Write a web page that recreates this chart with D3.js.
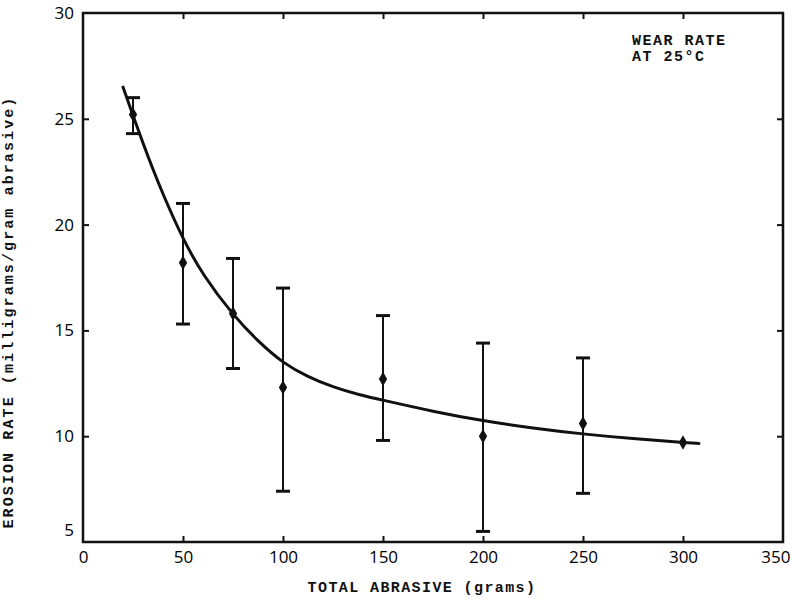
<!DOCTYPE html>
<html>
<head>
<meta charset="utf-8">
<script src="https://cdn.jsdelivr.net/npm/d3@7"></script>
<style>
  body { margin: 0; background: #fff; }
  svg { display: block; }
  .tick text { font-family: "Open Sans", "DejaVu Sans", sans-serif; font-size: 17px; fill: #000; }
  .tick line { stroke: #111; stroke-width: 2; }
  .label { font-family: "Liberation Mono", monospace; font-weight: bold; fill: #111; }
</style>
</head>
<body>
<div id="chart"></div>
<script>
// abrasive mass (g) at each measurement
const abrasive = [25, 50, 75, 100, 150, 200, 250, 300];
// mean erosion rate and error-bar limits (mg / g abrasive)
const rateMean = [25.2, 18.2, 15.8, 12.3, 12.7, 10.0, 10.6, 9.7];
const rateHigh = [26.0, 21.0, 18.4, 17.0, 15.7, 14.4, 13.7, null];
const rateLow  = [24.3, 15.3, 13.2, 7.4, 9.8, 5.5, 7.3, null];

// hand-fitted trend curve
const fitX = [20, 25, 30, 35, 40, 50, 60, 75, 87.5, 100, 112.5, 125, 137.5, 150, 175, 200, 225, 250, 275, 300, 308];
const fitY = [26.5, 25.15, 23.85, 22.6, 21.43, 19.3, 17.6, 15.72, 14.48, 13.45, 12.8, 12.32, 11.97, 11.7, 11.17, 10.72, 10.38, 10.1, 9.88, 9.7, 9.66];

const xTicks = [0, 50, 100, 150, 200, 250, 300, 350];
const yTicks = [5, 10, 15, 20, 25, 30];

const W = 792, H = 602;
const m = { top: 13, right: 9, bottom: 60, left: 83 };
const iw = W - m.left - m.right;
const ih = H - m.top - m.bottom;
const INK = '#111';
const TICK = 6;

const svg = d3.select('#chart').append('svg')
  .attr('width', W).attr('height', H);

const g = svg.append('g').attr('transform', `translate(${m.left},${m.top})`);

const x = d3.scaleLinear().domain([0, 350]).range([0, iw]);
const y = d3.scaleLinear().domain([5, 30]).range([ih, 0]);

// axes with inward ticks on all four sides
const bottom = g.append('g')
  .attr('transform', `translate(0,${ih})`)
  .call(d3.axisBottom(x).tickValues(xTicks).tickSizeInner(-TICK).tickSizeOuter(0).tickPadding(9));
const left = g.append('g')
  .call(d3.axisLeft(y).tickValues(yTicks).tickSizeInner(-TICK).tickSizeOuter(0).tickPadding(9));
g.append('g')
  .call(d3.axisTop(x).tickValues(xTicks.slice(1, -1)).tickSizeInner(-TICK).tickSizeOuter(0).tickFormat(''));
g.append('g')
  .attr('transform', `translate(${iw},0)`)
  .call(d3.axisRight(y).tickValues(yTicks.slice(1, -1)).tickSizeInner(-TICK).tickSizeOuter(0).tickFormat(''));

g.selectAll('.domain').remove();
bottom.selectAll('.tick').filter(d => d === 0 || d === 350).select('line').remove();
left.selectAll('.tick').filter(d => d === 5 || d === 30).select('line').remove();
// corner labels nudged to stay clear of the frame and the page edge
left.selectAll('.tick').filter(d => d === 5).select('text').attr('dy', '-0.4em');
bottom.selectAll('.tick').filter(d => d === 350).select('text')
  .attr('text-anchor', 'end').attr('x', 7);

// frame
g.append('rect')
  .attr('width', iw).attr('height', ih)
  .attr('fill', 'none').attr('stroke', INK).attr('stroke-width', 2.5);

// fitted curve
const fit = fitX.map((v, i) => [v, fitY[i]]);
g.append('path')
  .datum(fit)
  .attr('fill', 'none')
  .attr('stroke', INK)
  .attr('stroke-width', 3)
  .attr('stroke-linecap', 'round')
  .attr('d', d3.line().x(d => x(d[0])).y(d => y(d[1])).curve(d3.curveBasis));

// error bars
const bars = abrasive.map((v, i) => ({ x: v, hi: rateHigh[i], lo: rateLow[i], mean: rateMean[i] }));
const withBars = bars.filter(d => d.hi != null);
const eb = g.append('g').attr('stroke', INK).attr('stroke-width', 2);
eb.selectAll('line.stem').data(withBars).join('line')
  .attr('class', 'stem')
  .attr('x1', d => x(d.x)).attr('x2', d => x(d.x))
  .attr('y1', d => y(d.hi)).attr('y2', d => y(d.lo));
eb.selectAll('line.cap-hi').data(withBars).join('line')
  .attr('class', 'cap-hi')
  .attr('x1', d => x(d.x) - 7).attr('x2', d => x(d.x) + 7)
  .attr('y1', d => y(d.hi)).attr('y2', d => y(d.hi))
  .attr('stroke-width', 3);
eb.selectAll('line.cap-lo').data(withBars).join('line')
  .attr('class', 'cap-lo')
  .attr('x1', d => x(d.x) - 7).attr('x2', d => x(d.x) + 7)
  .attr('y1', d => y(d.lo)).attr('y2', d => y(d.lo))
  .attr('stroke-width', 3);

// diamond markers
g.selectAll('path.pt').data(bars).join('path')
  .attr('class', 'pt')
  .attr('transform', d => `translate(${x(d.x)},${y(d.mean)})`)
  .attr('d', d3.symbol(d3.symbolDiamond, 60))
  .attr('fill', INK);

// axis titles
svg.append('text')
  .attr('class', 'label')
  .attr('x', 422).attr('y', 592)
  .attr('text-anchor', 'middle')
  .attr('font-size', 15)
  .attr('letter-spacing', 1.4)
  .text('TOTAL ABRASIVE (grams)');

svg.append('text')
  .attr('class', 'label')
  .attr('transform', 'translate(13,312) rotate(-90)')
  .attr('text-anchor', 'middle')
  .attr('font-size', 15)
  .attr('letter-spacing', 2.1)
  .text('EROSION RATE (milligrams/gram abrasive)');

// annotation
svg.append('text')
  .attr('class', 'label')
  .attr('x', 632).attr('y', 45)
  .attr('font-size', 15)
  .attr('letter-spacing', 1.5)
  .text('WEAR RATE');
svg.append('text')
  .attr('class', 'label')
  .attr('x', 632).attr('y', 61)
  .attr('font-size', 15)
  .attr('letter-spacing', 1.5)
  .text('AT 25°C');
</script>
</body>
</html>
